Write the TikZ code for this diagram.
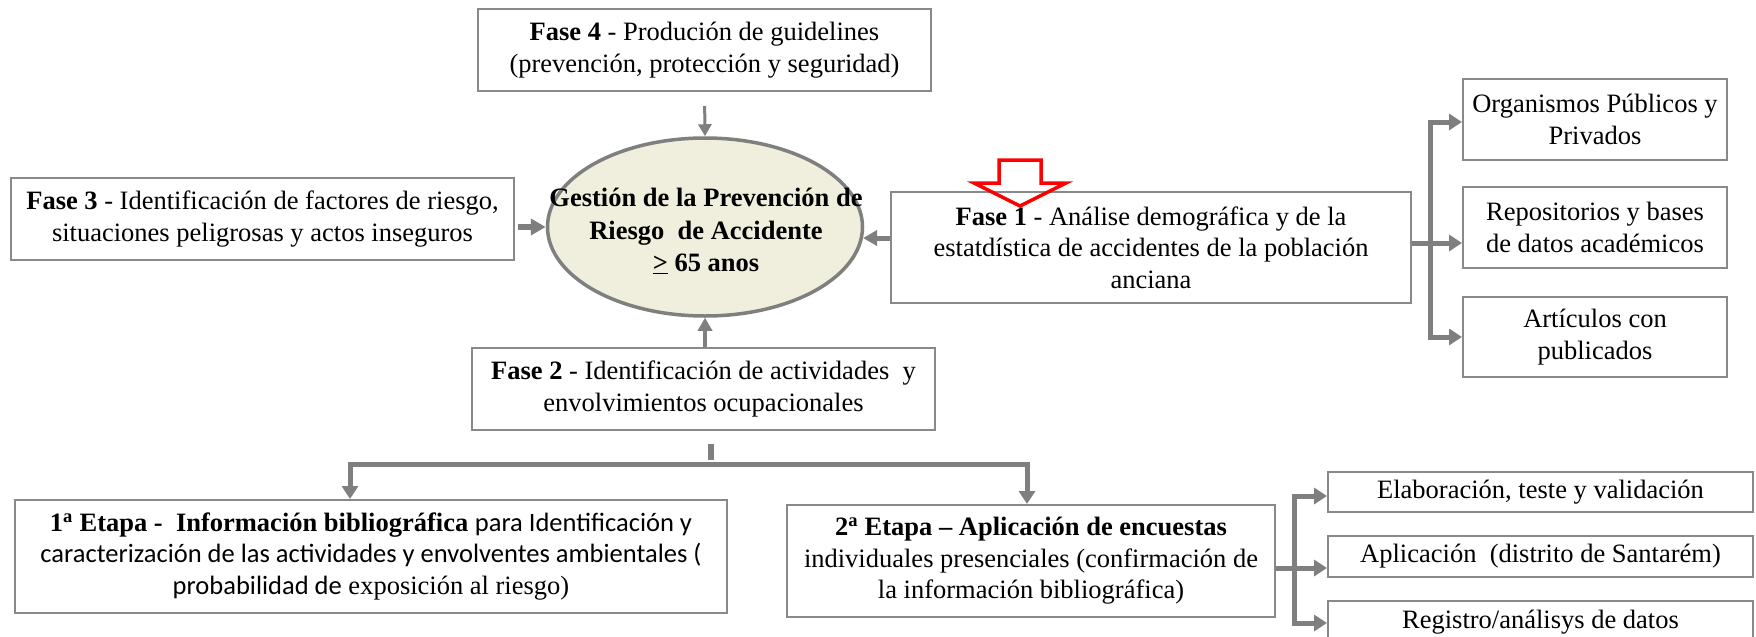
\documentclass[tikz,border=0pt]{standalone}
\usepackage{fontspec}
\setmainfont{Liberation Serif}
\newfontfamily\carlito{Carlito}
\usetikzlibrary{arrows.meta,calc,shapes.geometric}
\definecolor{ln}{HTML}{7F7F7F}
\definecolor{bd}{HTML}{898989}
\definecolor{ef}{HTML}{F0EEDC}
\definecolor{rd}{HTML}{FF0000}
\begin{document}
\begin{tikzpicture}[x=1pt,y=-1pt,
  box/.style={draw=bd,line width=2pt,fill=white,align=center,inner sep=0pt,
    font=\fontsize{26.5}{31.5}\selectfont},
  txt/.style={align=center,inner sep=0pt,font=\fontsize{26.5}{31.5}\selectfont},
  conn/.style={draw=ln,line width=5pt,line join=miter},
  tip/.tip={Triangle[length=13pt,width=16pt]},
  arr/.style={conn,-tip},
]
\clip (0,0) rectangle (1756,637);
\fill[white] (0,0) rectangle (1756,637);

% central ellipse
\node[draw=ln,line width=3.5pt,fill=ef,ellipse,minimum width=315pt,minimum height=178pt,inner sep=0pt] (ell) at (705,227) {};
\node[txt,font=\bfseries\fontsize{26.5}{32.5}\selectfont] (ellt) at (706,231)
  {Gestión de la Prevención de\\Riesgo\ \ de Accidente\\\underline{>} 65 anos};

% phases
\node[box,minimum width=453pt,minimum height=82pt] (f4) at (704.5,50)
  {\textbf{Fase 4} - Produción de guidelines\\(prevención, protección y seguridad)};
\node[box,minimum width=503pt,minimum height=82pt] (f3) at (262.5,219)
  {\textbf{Fase 3} - Identificación de factores de riesgo,\\situaciones peligrosas y actos inseguros};
\node[box,minimum width=520pt,minimum height=111pt] (f1) at (1151,247.5)
  {\textbf{Fase 1} - Análise demográfica y de la\\estatdística de accidentes de la población\\anciana};
\node[box,minimum width=463pt,minimum height=82pt] (f2) at (703.5,389)
  {\textbf{Fase 2} - Identificación de actividades\ \ y\\envolvimientos ocupacionales};

% etapas
\node[box,minimum width=712pt,minimum height=113pt] (e1) at (371,556.5)
  {\textbf{1\textsuperscript{a} Etapa -\ \ Información bibliográfica} {\carlito para Identificación y}\\{\carlito caracterización de las actividades y envolventes ambientales (}\\{\carlito probabilidad de} exposición al riesgo)};
\node[box,minimum width=488pt,minimum height=112pt] (e2) at (1031,561)
  {\textbf{2\textsuperscript{a} Etapa – Aplicación de encuestas}\\individuales presenciales (confirmación de\\la información bibliográfica)};

% sources
\node[box,minimum width=264pt,minimum height=81pt] (r1) at (1595,119.5) {Organismos Públicos y\\Privados};
\node[box,minimum width=264pt,minimum height=81pt] (r2) at (1595,227.5) {Repositorios y bases\\de datos académicos};
\node[box,minimum width=264pt,minimum height=80pt] (r3) at (1595,337) {Artículos con\\publicados};

% survey steps
\node[box,minimum width=425pt,minimum height=40pt] (s1) at (1540.5,492) {Elaboración, teste y validación};
\node[box,minimum width=425pt,minimum height=41pt] (s2) at (1540.5,556.5) {Aplicación\ \ (distrito de Santarém)};
\node[box,minimum width=425pt,minimum height=42pt] (s3) at (1540.5,622) {Registro/análisys de datos};

% coordinates for branch lines
\coordinate (busL) at (350,464);
\coordinate (busR) at (1027,464);
\coordinate (rtop) at (1430,122);
\coordinate (rmid) at (1430,243);
\coordinate (rbot) at (1430,337);
\coordinate (stop) at (1294,496);
\coordinate (smid) at (1294,568);
\coordinate (sbot) at (1294,623);

% arrows to the ellipse
\draw[conn,line width=3pt,-{Triangle[length=12pt,width=13pt]},shorten <=14pt] (f4.south) -- (ell.north);
\draw[conn,line width=6pt,-{Triangle[length=15pt,width=16pt]},shorten <=3pt] (f3.east |- ell.west) -- (ell.west);
\draw[conn,line width=5pt,-{Triangle[length=14pt,width=15pt]}] (f1.west |- ell.-4) -- (ell.-4);
\draw[conn,line width=4.5pt,-{Triangle[length=13pt,width=14pt]}] (ell.south |- f2.north) -- (ell.south);

% Fase 2 to etapas
\draw[conn,line width=6pt,line cap=butt,shorten <=13pt,shorten >=4pt] ([xshift=7pt]f2.south) -- ([xshift=7pt]f2.south |- busL);
\draw[conn,tip-tip] (busL |- e1.north) -- (busL) -- (busR) -- (busR |- e2.north);

% Fase 1 to sources
\draw[conn] (f1.east |- rmid) -- (rmid);
\draw[conn,tip-tip] (r1.west |- rtop) -- (rtop) -- (rbot) -- (r3.west |- rbot);
\draw[arr] (rmid) -- (r2.west |- rmid);

% 2a etapa to steps
\draw[conn] (e2.east |- smid) -- (smid);
\draw[conn,tip-tip] (s1.west |- stop) -- (stop) -- (sbot) -- (s3.west |- sbot);
\draw[arr] (smid) -- (s2.west |- smid);

% red outlined arrow
\draw[rd,line width=3.5pt,line join=miter] (999,160) -- (1041,160) -- (1041,183) -- (1066,183) -- (1020,206) -- (974,183) -- (999,183) -- cycle;
\end{tikzpicture}
\end{document}
